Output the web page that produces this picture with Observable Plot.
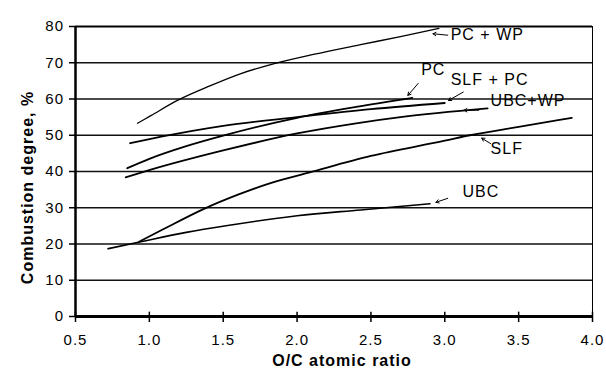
<!DOCTYPE html>
<html>
<head>
<meta charset="utf-8">
<script src="https://cdn.jsdelivr.net/npm/d3@7"></script>
<script src="https://cdn.jsdelivr.net/npm/@observablehq/plot@0.6"></script>
<style>
  html, body { margin: 0; padding: 0; background: #fff; }
  #chart svg { display: block; }
</style>
</head>
<body>
<div id="chart"></div>
<script>
// ---- data ----
const xTicks = [0.5, 1.0, 1.5, 2.0, 2.5, 3.0, 3.5, 4.0];
const yTicks = [0, 10, 20, 30, 40, 50, 60, 70, 80];

const xPCWP = [0.92, 1.01, 1.19, 1.41, 1.62, 1.84, 2.11, 2.43, 2.7, 2.96];
const yPCWP = [53.3, 55.4, 59.6, 63.6, 67.0, 69.7, 72.3, 75.0, 77.2, 79.5];

const xSLFPC = [0.87, 1.08, 1.5, 2.0, 2.5, 3.0];
const ySLFPC = [47.8, 49.6, 52.6, 55.0, 57.2, 58.9];

const xPC = [0.85, 1.0, 1.25, 1.5, 2.0, 2.4, 2.78];
const yPC = [40.9, 43.5, 47.0, 49.9, 54.8, 57.8, 60.3];

const xUBCWP = [0.84, 1.01, 1.5, 2.0, 2.4, 2.7, 3.29];
const yUBCWP = [38.4, 40.5, 45.8, 50.5, 53.3, 55.0, 57.4];

const xSLF = [0.93, 1.1, 1.37, 1.6, 1.82, 2.08, 2.5, 3.0, 3.17, 3.5, 3.86];
const ySLF = [20.6, 24.2, 29.7, 33.6, 36.8, 39.7, 44.3, 48.5, 50.0, 52.3, 54.8];

const xUBC = [0.72, 0.95, 1.25, 1.53, 2.0, 2.43, 2.9];
const yUBC = [18.7, 20.7, 23.2, 25.1, 27.8, 29.4, 31.1];

const seriesNames = ["PC + WP", "SLF + PC", "PC", "UBC+WP", "SLF", "UBC"];
const seriesX = [xPCWP, xSLFPC, xPC, xUBCWP, xSLF, xUBC];
const seriesY = [yPCWP, ySLFPC, yPC, yUBCWP, ySLF, yUBC];
const seriesWidth = [1.3, 1.8, 1.8, 1.8, 1.8, 1.6];

// annotation labels and their pointer arrows (data units)
const labelText = ["PC + WP", "PC", "SLF + PC", "UBC+WP", "SLF", "UBC"];
const labelX = [3.04, 2.84, 3.04, 3.31, 3.31, 3.12];
const labelY = [77.6, 68.0, 65.2, 59.5, 46.2, 34.4];
const arrowX1 = [3.02, 2.82, 3.125, 3.23, 3.31, 3.02];
const arrowY1 = [77.6, 64.3, 61.9, 56.9, 47.7, 32.6];
const arrowX2 = [2.92, 2.75, 3.025, 3.13, 3.25, 2.94];
const arrowY2 = [78.0, 61.0, 59.6, 56.9, 49.2, 31.5];

const xTitle = "O/C atomic ratio";
const yTitle = "Combustion degree, %";

// ---- build tables ----
const lineRows = [];
seriesNames.forEach((name, i) => {
  seriesX[i].forEach((x, j) => lineRows.push({series: name, x, y: seriesY[i][j]}));
});
const labels = labelText.map((t, i) => ({t, x: labelX[i], y: labelY[i]}));
const arrows = labelText.map((t, i) => ({x1: arrowX1[i], y1: arrowY1[i], x2: arrowX2[i], y2: arrowY2[i]}));

const font = "'Liberation Sans', Arial, Helvetica, sans-serif";

const chart = Plot.plot({
  width: 606,
  height: 369,
  marginTop: 26,
  marginRight: 14,
  marginBottom: 53,
  marginLeft: 75,
  style: {fontFamily: font, fontSize: "15px", color: "#000", background: "#fff", letterSpacing: "1px"},
  x: {domain: [0.5, 4.0]},
  y: {domain: [0, 80]},
  marks: [
    Plot.ruleY(yTicks.filter(d => d > 0 && d < 80), {stroke: "#111", strokeWidth: 1.4}),
    Plot.ruleY([80], {stroke: "#000", strokeWidth: 2}),
    Plot.ruleX([4.0], {stroke: "#000", strokeWidth: 1}),
    Plot.ruleX([0.5], {stroke: "#000", strokeWidth: 2.5}),
    Plot.ruleY([0], {stroke: "#000", strokeWidth: 3}),
    Plot.ruleX(xTicks, {y1: 0, y2: 1.2, stroke: "#000", strokeWidth: 1.5}),
    Plot.axisX({ticks: xTicks, tickFormat: d3.format(".1f"), tickSize: 6, tickPadding: 12, strokeWidth: 1.5, label: null}),
    Plot.axisY({ticks: yTicks, tickSize: 6, tickPadding: 5.5, strokeWidth: 1.5, label: null}),
    ...seriesNames.map((name, i) =>
      Plot.line(lineRows.filter(d => d.series === name), {x: "x", y: "y", curve: "monotone-x", stroke: "#000", strokeWidth: seriesWidth[i]})
    ),
    Plot.arrow(arrows, {x1: "x1", y1: "y1", x2: "x2", y2: "y2", stroke: "#000", strokeWidth: 1, headLength: 5}),
    Plot.text(labels, {x: "x", y: "y", text: "t", textAnchor: "start", fontSize: 16, fill: "#000"}),
    Plot.text([xTitle], {frameAnchor: "bottom", textAnchor: "middle", dx: 8, dy: 49, lineAnchor: "bottom", fontWeight: "bold", fontSize: 16, fill: "#000"}),
    Plot.text([yTitle], {frameAnchor: "left", textAnchor: "middle", rotate: -90, dx: -48, dy: 16, lineAnchor: "middle", fontWeight: "bold", fontSize: 16, fill: "#000"})
  ]
});
document.getElementById("chart").appendChild(chart);
</script>
</body>
</html>
